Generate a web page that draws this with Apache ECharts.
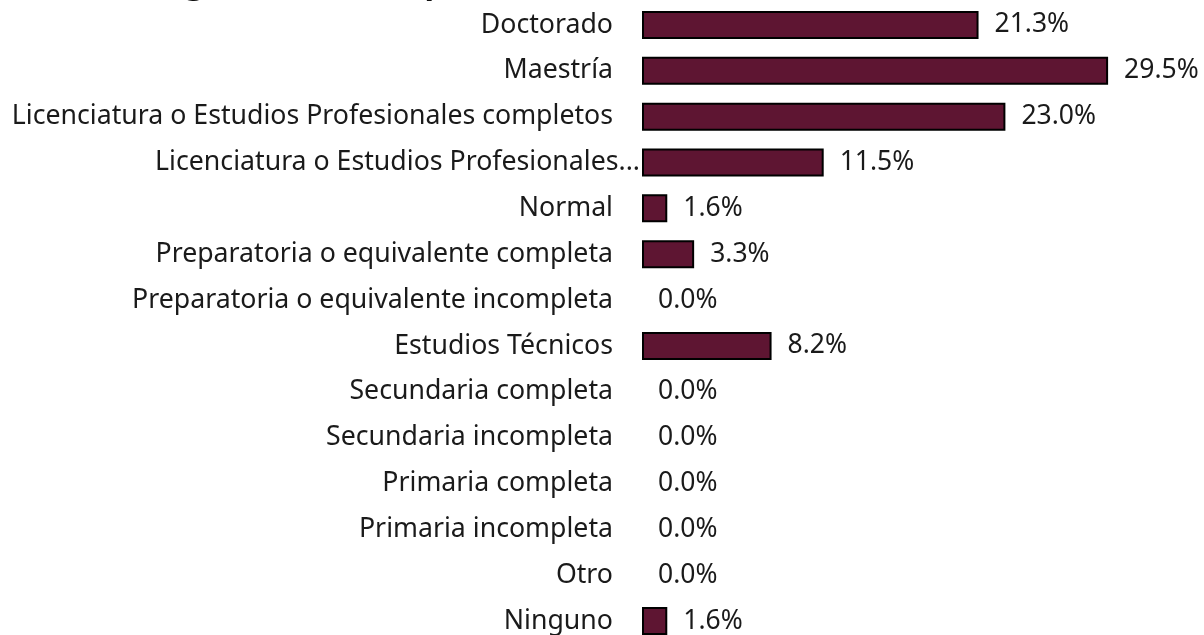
<!DOCTYPE html>
<html>
<head>
<meta charset="utf-8">
<script src="https://cdn.jsdelivr.net/npm/echarts@6/dist/echarts.min.js"></script>
<style>
  html, body { margin: 0; padding: 0; background: #fff; }
  #chart { width: 1204px; height: 635px; }
</style>
</head>
<body>
<div id="chart"></div>
<script>
// niveles de estudio (de arriba hacia abajo)
var niveles = [
    'Doctorado',
    'Maestría',
    'Licenciatura o Estudios Profesionales completos',
    'Licenciatura o Estudios Profesionales...',
    'Normal',
    'Preparatoria o equivalente completa',
    'Preparatoria o equivalente incompleta',
    'Estudios Técnicos',
    'Secundaria completa',
    'Secundaria incompleta',
    'Primaria completa',
    'Primaria incompleta',
    'Otro',
    'Ninguno'
];
// porcentaje
var porcentajes = [21.3, 29.5, 23.0, 11.5, 1.6, 3.3, 0.0, 8.2, 0.0, 0.0, 0.0, 0.0, 0.0, 1.6];

var FONT = 'Noto Sans';

// las barras en cero no llevan borde
var barData = porcentajes.map(function (v) {
    return v === 0 ? { value: v, itemStyle: { borderWidth: 0 } } : v;
});

var myChart = echarts.init(document.getElementById('chart'));
var option = {
    backgroundColor: '#ffffff',
    animation: false,
    // el título queda cortado arriba, solo asoman los rasgos descendentes
    title: {
        text: 'Escolaridad: grado máximo por nivel',
        left: -20,
        top: -37,
        textStyle: { fontFamily: FONT, fontSize: 32, fontWeight: 'bold', color: '#111' }
    },
    grid: {
        left: 642,
        right: 88,
        top: 2,
        height: 642,
        outerBoundsMode: 'none'
    },
    xAxis: {
        type: 'value',
        min: 0,
        max: 30,
        show: false
    },
    yAxis: {
        type: 'category',
        inverse: true,
        data: niveles,
        axisLine: { show: false },
        axisTick: { show: false },
        axisLabel: {
            margin: 2,
            formatter: function (v) {
                // la etiqueta recortada llega hasta la barra
                if (v.indexOf('...') >= 0) {
                    return '{n|' + v + '}';
                }
                return '{n|' + v + '}{s|}';
            },
            rich: {
                n: { fontFamily: FONT, fontSize: 26.7, color: '#1a1a1a' },
                s: { width: 27 }
            }
        }
    },
    series: [
        {
            type: 'bar',
            data: barData,
            barWidth: 28,
            itemStyle: {
                color: '#5e1532',
                borderColor: '#000',
                borderWidth: 2
            },
            label: {
                show: true,
                position: 'right',
                distance: 16,
                fontFamily: FONT,
                fontSize: 26.5,
                color: '#1a1a1a',
                formatter: function (p) {
                    return p.value.toFixed(1) + '%';
                }
            }
        }
    ]
};
myChart.setOption(option);
</script>
</body>
</html>
